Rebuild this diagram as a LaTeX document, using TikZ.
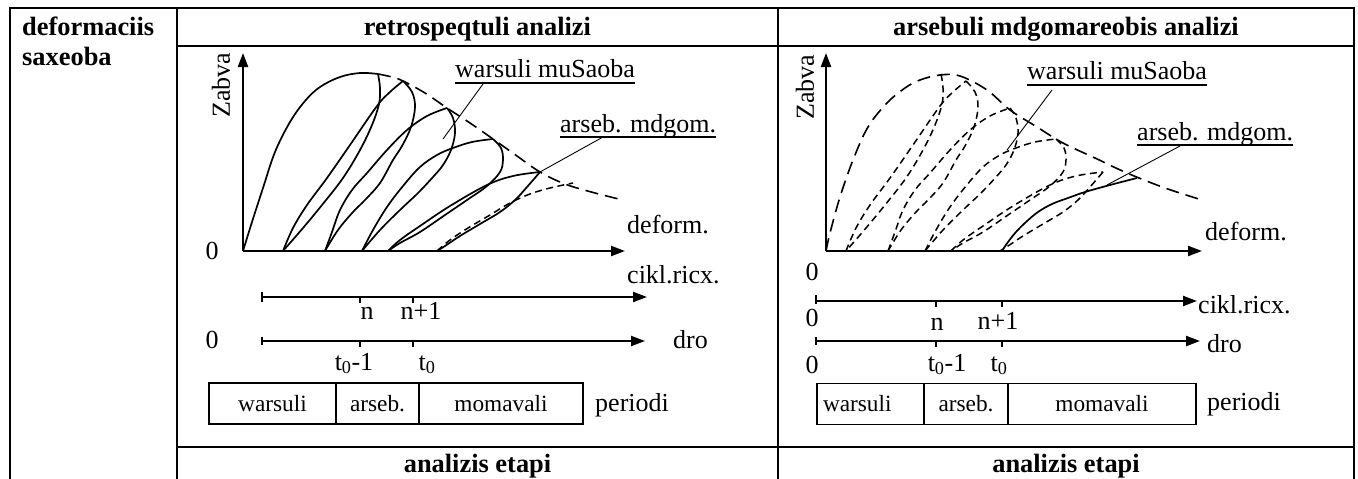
\documentclass[tikz,border=0pt]{standalone}
\usepackage{fontspec}
\setmainfont{Liberation Serif}
\usetikzlibrary{arrows.meta}
\newcommand\lbf{\fontsize{26}{30}\selectfont}
\newcommand\bxf{\fontsize{23.3}{28}\selectfont}
\newcommand\hdf{\fontsize{26.4}{31}\selectfont\bfseries}
\newcommand\drawloops[1]{%
 \draw[#1] plot[smooth,tension=0.6] coordinates {(378,74) (380,88) (379,104) (372,125) (360,150) (343,178) (322,205) (303,228) (283,251)};
 \draw[#1] plot[smooth,tension=0.6] coordinates {(283,251) (293,228) (307,205) (327,178) (350,145) (377,106) (390,92) (403,81)};
 \draw[#1] plot[smooth,tension=0.6] coordinates {(403,81) (412,92) (415,107) (411,127) (402,146) (393,160) (380,183) (365,200) (353,212) (338,230) (325,251)};
 \draw[#1] plot[smooth,tension=0.6] coordinates {(325,251) (332,232) (340,210) (352,190) (367,173) (387,150) (407,130) (427,116) (447,108)};
 \draw[#1] plot[smooth,tension=0.6] coordinates {(447,108) (453,118) (455,133) (451,150) (443,165) (433,177) (418,193) (400,210) (380,230) (362,251)};
 \draw[#1] plot[smooth,tension=0.6] coordinates {(362,251) (373,230) (387,207) (403,186) (420,167) (437,155) (453,148) (472,142) (493,139)};
 \draw[#1] plot[smooth,tension=0.6] coordinates {(493,139) (501,148) (503,160) (500,172) (487,186) (467,200) (445,215) (420,232) (400,243) (388,251)};
 \draw[#1] plot[smooth,tension=0.6] coordinates {(388,251) (400,240) (420,226) (450,206) (487,185) (513,176) (540,172)};
 \draw[#1] plot[smooth,tension=0.6] coordinates {(540,172) (527,187) (515,200) (500,212) (480,224) (460,236) (445,246) (437,251)};
}
\begin{document}
\begin{tikzpicture}[x=1pt,y=-1pt,
  tbl/.style={line width=2.2pt},
  axis/.style={line width=2.2pt,-{Triangle[length=14pt,width=10pt]}},
  tk/.style={line width=1.8pt},
  crv/.style={line width=1.7pt},
  sdash/.style={line width=1.5pt,dash pattern=on 7pt off 4.5pt},
  ldash/.style={line width=1.6pt,dash pattern=on 13pt off 7pt},
  lead/.style={line width=0.9pt},
  uline/.style={line width=1.8pt},
  lbl/.style={inner sep=0pt,font=\lbf},
  hd/.style={inner sep=0pt,font=\hdf},
  bx/.style={draw,line width=1.5pt,inner sep=0pt,font=\bxf,minimum height=41pt}]
\useasboundingbox (0,0) rectangle (1358,479);
% table
\draw[tbl] (10,479) -- (10,8) -- (1354,8) -- (1354,479);
\draw[tbl] (177,8) -- (177,479);
\draw[tbl] (778,8) -- (778,479);
\draw[tbl] (177,46) -- (1354,46);
\draw[tbl] (177,447) -- (1354,447);
\node[hd,anchor=base west] (h1) at (22,35) {deformaciis};
\node[hd,anchor=base west] (h1b) at (22,65) {saxeoba};
\node[hd,anchor=base] (h2) at (477.5,35) {retrospeqtuli analizi};
\node[hd,anchor=base] (h3) at (1066,35) {arsebuli mdgomareobis analizi};
\node[hd,anchor=base] (e1) at (477.5,472) {analizis etapi};
\node[hd,anchor=base] (e2) at (1066,472) {analizis etapi};
% ---------------- left chart
\coordinate (LO) at (243,251);
\coordinate (LY) at (243,53);
\coordinate (LX) at (625,251);
\draw[axis] (LO) -- (LY);
\draw[axis] (LO) -- (LX);
\node[lbl,rotate=90] (lz) at (221,85) {Zabva};
\node[lbl] (l0) at (212,251) {0};
\node[lbl,anchor=base west] (ldef) at (627,233) {deform.};
\draw[crv] plot[smooth,tension=0.6] coordinates {(243,251) (252,222) (263,188) (275,152) (290,122) (305,101) (320,87) (340,77) (360,73) (378,74)};
\draw[ldash] plot[smooth,tension=0.6] coordinates {(378,74) (392,77) (403,81) (425,93) (447,108) (470,123) (493,139) (517,156) (540,172) (565,184) (595,193) (623,200)};
\drawloops{crv}
\draw[sdash] plot[smooth,tension=0.6] coordinates {(437,251) (450,240) (468,228) (490,215) (510,203) (530,194) (550,188) (573,183)};
\node[lbl,anchor=base west] (lw) at (455,77) {warsuli muSaoba};
\draw[uline] ([yshift=-6pt]lw.base west) -- ([yshift=-6pt]lw.base east);
\coordinate (lwa) at (483,84);
\coordinate (lwb) at (443,139);
\draw[lead] (lwa) -- (lwb);
\node[lbl,anchor=base west] (la) at (560,132) {arseb. mdgom.};
\draw[uline] ([yshift=-5pt]la.base west) -- ([yshift=-5pt]la.base east);
\coordinate (laa) at (603,137);
\coordinate (lab) at (540,172);
\draw[lead] (laa) -- (lab);
% left time axes
\coordinate (la1s) at (262,297);
\coordinate (la1e) at (647,297);
\draw[axis] (la1s) -- (la1e);
\draw[tk] (262,292) -- (262,302);
\draw[tk] (360,297) -- (360,303);
\draw[tk] (413,297) -- (413,303);
\node[lbl,anchor=base west] (lc) at (627,283) {cikl.ricx.};
\node[lbl,anchor=base] (ln) at (367,319) {n};
\node[lbl,anchor=base] (ln1) at (421,319) {n+1};
\coordinate (la2s) at (262,341);
\coordinate (la2e) at (645,341);
\draw[axis] (la2s) -- (la2e);
\draw[tk] (262,337) -- (262,345);
\draw[tk] (360,341) -- (360,347);
\draw[tk] (413,341) -- (413,347);
\node[lbl,anchor=base] (l02) at (212,348) {0};
\node[lbl,anchor=base west] (ldro) at (673,348) {dro};
\node[lbl,anchor=base] (lt1) at (354,370) {t\textsubscript{0}-1};
\node[lbl,anchor=base] (lt0) at (427,370) {t\textsubscript{0}};
\node[bx,minimum width=127pt] (lb1) at (272.5,403.5) {warsuli};
\node[bx,minimum width=83pt] (lb2) at (377.5,403.5) {arseb.};
\node[bx,minimum width=164pt] (lb3) at (501,403.5) {momavali};
\node[lbl,anchor=base west] (lp) at (595,411) {periodi};
% ---------------- right chart
\coordinate (RO) at (826,251);
\coordinate (RY) at (826,53);
\coordinate (RX) at (1202,251);
\draw[axis] (RO) -- (RY);
\draw[axis] (RO) -- (RX);
\node[lbl,rotate=90] (rz) at (805,87) {Zabva};
\node[lbl,anchor=base] (r0) at (812,280) {0};
\node[lbl,anchor=base west] (rdef) at (1205,240) {deform.};
\draw[ldash] plot[smooth,tension=0.6] coordinates {(826,251) (830,233) (840,197) (853,160) (868,127) (887,103) (905,88) (920,80) (940,75) (960,76) (987,90) (1010,110) (1037,127) (1063,143) (1095,158) (1127,173) (1165,188) (1202,200)};
\begin{scope}[xshift=563pt]
\drawloops{sdash}
\end{scope}
\draw[crv] plot[smooth,tension=0.6] coordinates {(1002,251) (1008,242) (1016,232) (1026,222) (1038,212) (1052,204) (1068,198) (1085,192) (1110,185) (1137,178)};
\node[lbl,anchor=base west] (rw) at (1027,79) {warsuli muSaoba};
\draw[uline] ([yshift=-6pt]rw.base west) -- ([yshift=-6pt]rw.base east);
\coordinate (rwa) at (1052,90);
\coordinate (rwb) at (1007,150);
\draw[lead] (rwa) -- (rwb);
\node[lbl,anchor=base west] (ra) at (1137,140) {arseb. mdgom.};
\draw[uline] ([yshift=-5pt]ra.base west) -- ([yshift=-5pt]ra.base east);
\coordinate (raa) at (1180,146);
\coordinate (rab) at (1107,185);
\draw[lead] (raa) -- (rab);
% right time axes
\coordinate (ra1s) at (816,301);
\coordinate (ra1e) at (1197,301);
\draw[axis] (ra1s) -- (ra1e);
\draw[tk] (816,295) -- (816,304);
\draw[tk] (936,301) -- (936,307);
\draw[tk] (1002,301) -- (1002,307);
\node[lbl,anchor=base west] (rc) at (1198,313) {cikl.ricx.};
\node[lbl,anchor=base] (r01) at (812,326) {0};
\node[lbl,anchor=base] (rn) at (937,330) {n};
\node[lbl,anchor=base] (rn1) at (998,329) {n+1};
\coordinate (ra2s) at (816,341);
\coordinate (ra2e) at (1200,341);
\draw[axis] (ra2s) -- (ra2e);
\draw[tk] (816,337) -- (816,345);
\draw[tk] (936,341) -- (936,347);
\draw[tk] (1002,341) -- (1002,347);
\node[lbl,anchor=base west] (rdro) at (1207,352) {dro};
\node[lbl,anchor=base] (r02) at (812,373) {0};
\node[lbl,anchor=base] (rt1) at (947,371) {t\textsubscript{0}-1};
\node[lbl,anchor=base] (rt0) at (999,371) {t\textsubscript{0}};
\node[bx,minimum width=107pt,text width=95pt,inner xsep=6pt,align=left] (rb1) at (870.5,404) {warsuli};
\node[bx,minimum width=84pt] (rb2) at (966,404) {arseb.};
\node[bx,minimum width=188pt] (rb3) at (1102,404) {momavali};
\node[lbl,anchor=base west] (rp) at (1207,410) {periodi};
\end{tikzpicture}
\end{document}
